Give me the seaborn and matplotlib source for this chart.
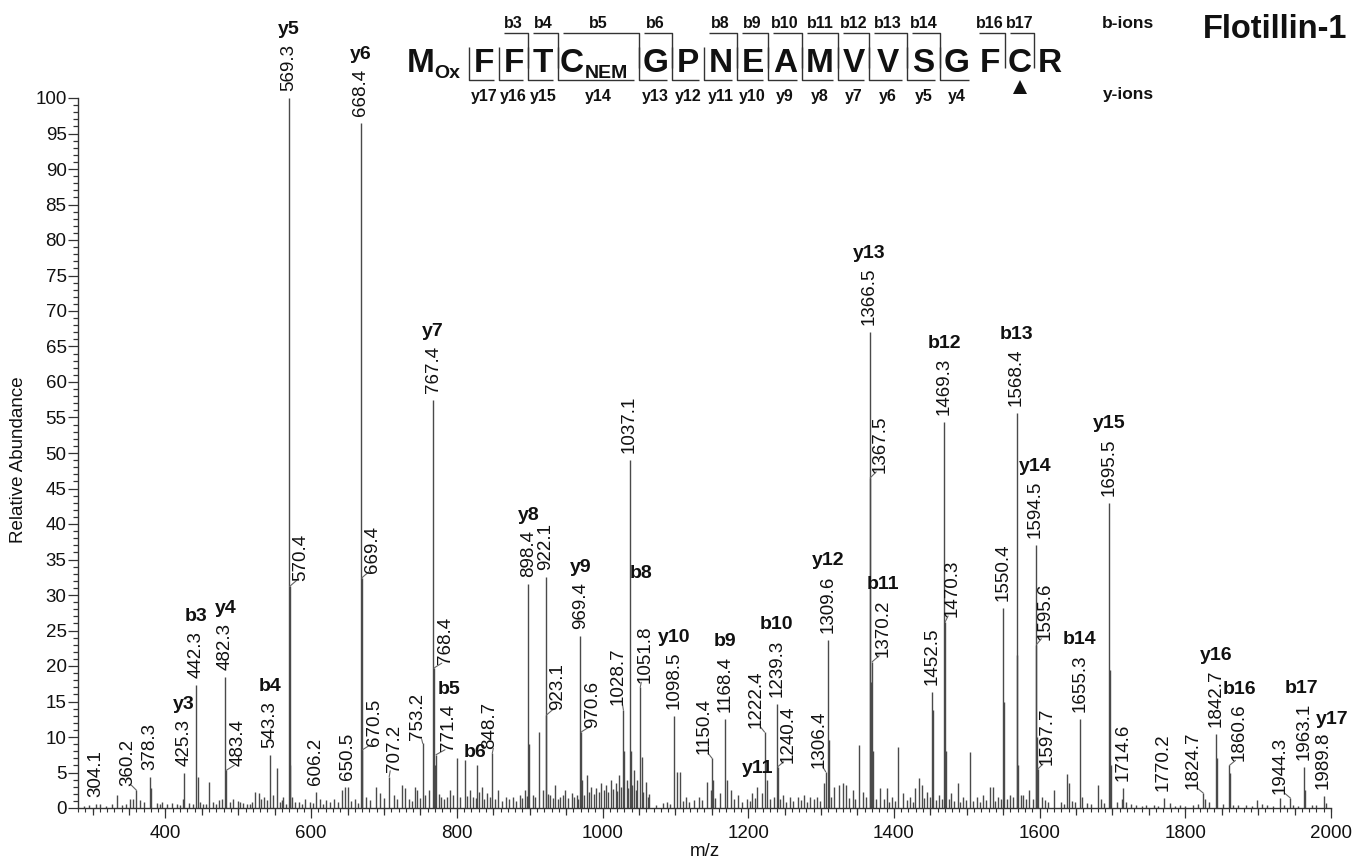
import numpy as np
import pandas as pd
import matplotlib
matplotlib.use("Agg")
import matplotlib.pyplot as plt
from matplotlib.ticker import MultipleLocator
import seaborn as sns

# ---------------- data ----------------
# annotated peaks (m/z label, relative abundance %)
ann_mz = [304.1, 360.2, 378.3, 425.3, 442.3, 482.3, 483.4, 543.3, 569.3, 570.4,
          606.2, 650.5, 668.4, 669.4, 670.5, 707.2, 753.2, 767.4, 768.4, 771.4,
          848.7, 898.4, 922.1, 923.1, 969.4, 970.6, 1028.7, 1037.1, 1051.8, 1098.5,
          1150.4, 1168.4, 1222.4, 1239.3, 1240.4, 1306.4, 1309.6, 1366.5, 1367.5, 1370.2,
          1452.5, 1469.3, 1470.3, 1550.4, 1568.4, 1594.5, 1595.6, 1597.7, 1655.3, 1695.5,
          1714.6, 1770.2, 1824.7, 1842.7, 1860.6, 1944.3, 1963.1, 1989.8]
ann_int = [0.5, 2.5, 4.4, 4.9, 17.3, 18.4, 5.3, 7.5, 100.0, 31.2,
           2.3, 3.0, 96.5, 32.4, 8.2, 4.4, 9.1, 57.5, 19.7, 7.5,
           7.7, 31.5, 32.5, 13.1, 24.2, 10.7, 13.8, 49.0, 17.0, 12.9,
           7.0, 12.5, 10.7, 14.7, 5.8, 5.1, 23.7, 67.0, 46.5, 20.6,
           16.4, 54.4, 26.2, 28.1, 55.6, 37.0, 23.0, 5.5, 12.6, 43.0,
           2.8, 1.4, 2.1, 10.4, 6.0, 1.4, 5.8, 1.7]
# fragment-ion assignment of annotated peaks
ann_ion = {425.3: "y3", 442.3: "b3", 482.3: "y4", 543.3: "b4", 569.3: "y5",
           668.4: "y6", 767.4: "y7", 771.4: "b5", 898.4: "y8", 969.4: "y9",
           1098.5: "y10", 1168.4: "b9", 1239.3: "b10", 1309.6: "y12", 1366.5: "y13",
           1370.2: "b11", 1469.3: "b12", 1568.4: "b13", 1594.5: "y14", 1655.3: "b14",
           1695.5: "y15", 1842.7: "y16", 1860.6: "b16", 1963.1: "b17", 1989.8: "y17"}
# ion peaks shown only with their ion name
ion_only_mz = [828.3, 1039.4, 1212.6]
ion_only_int = [6.0, 8.0, 3.0]
ion_only_name = ["b6", "b8", "y11"]

# other (unlabelled) peaks
other_mz = [288, 295, 310, 319, 326, 333, 340, 346, 351, 355, 365, 370, 380, 388, 392, 395,
            402, 409, 416, 420, 424, 433, 438, 444.3, 448, 452, 456, 460, 466, 470, 473, 477,
            488, 493, 499, 503, 507, 512, 516, 519, 523, 528, 531, 535, 539, 547, 553, 557,
            560, 562, 566,
            571.4, 574, 578, 583, 587, 592, 598, 602, 612, 616, 621, 626, 632, 637, 642, 647,
            655, 660, 664, 676, 681, 689, 694.6, 700, 714, 718, 725, 729, 734, 738, 743, 746,
            750, 757, 762, 769.4, 775, 778, 782, 787, 791, 795, 800, 804, 810.6, 814, 818, 822,
            826, 831, 834, 838, 841, 845, 852, 857, 862, 868, 872, 877, 881, 886.6, 890, 893,
            896, 899.4, 904, 908, 913, 918, 925, 928, 932, 935, 939, 942, 946, 949, 953, 958,
            961, 964.6, 966, 971.5, 975, 979, 982, 984.8, 988, 991.7, 995, 998.6, 1002, 1005.4,
            1008, 1012, 1015, 1018, 1020, 1023, 1026, 1030, 1033.6, 1035, 1041, 1043, 1046, 1048,
            1053.8, 1056, 1059.7, 1062, 1064, 1074, 1083, 1088, 1093,
            1102, 1106, 1110, 1114, 1119, 1125.6, 1132.5, 1136, 1143, 1149, 1151.4, 1155, 1161,
            1171, 1177, 1181, 1186.6, 1191, 1198, 1202, 1205, 1209, 1219, 1225.6, 1230, 1235,
            1243, 1248, 1252, 1257, 1262, 1269, 1273, 1277, 1281, 1285, 1290, 1294.4, 1298,
            1303.5, 1310.6, 1313, 1318, 1325, 1330, 1334, 1338, 1343.5, 1347, 1352, 1357, 1362,
            1368.5, 1371.2, 1375, 1381, 1386, 1390, 1393, 1397, 1401, 1405, 1413, 1418, 1422.6,
            1426, 1429, 1434, 1438.6, 1441, 1445.5, 1449, 1453.5, 1458, 1461.7, 1466, 1471.3,
            1475, 1479, 1483, 1488, 1491, 1495, 1499, 1505, 1509, 1513.6, 1518, 1522.7, 1527,
            1532, 1535.6, 1539, 1543.4, 1547, 1551.4, 1555, 1559, 1564, 1569.4, 1570.4, 1574,
            1577.8, 1581, 1585, 1591,
            1596.6, 1603, 1608, 1612, 1620, 1628.8, 1633, 1638, 1640, 1645, 1648, 1658, 1665,
            1670, 1680, 1683.6, 1689, 1696.5, 1697.5, 1705.6, 1712.5, 1718, 1725, 1733, 1740,
            1746.5, 1757, 1763, 1779, 1786, 1793, 1800, 1810, 1818, 1827.6, 1832, 1843.7, 1852,
            1861.6, 1866, 1873, 1884, 1892, 1899, 1905, 1912, 1920, 1930, 1935, 1948, 1955,
            1964.1, 1973.6, 1980, 1993]
other_int = [0.3, 0.4, 0.6, 0.3, 0.6, 1.8, 0.4, 0.5, 1.2, 1.3, 1.1, 0.9, 2.8, 0.7, 0.6, 0.8,
             0.5, 0.7, 0.5, 0.4, 1.2, 0.7, 0.6, 4.3, 0.8, 0.5, 0.5, 3.7, 0.9, 0.6, 1.1, 1.3,
             0.9, 1.3, 1.0, 0.8, 0.7, 0.6, 0.5, 0.9, 2.3, 2.1, 1.2, 1.6, 1.1, 1.8, 5.7, 0.9,
             1.1, 1.6, 0.5,
             6.0, 1.6, 0.8, 0.9, 0.6, 1.3, 0.9, 0.7, 1.3, 0.6, 1.1, 0.8, 1.3, 0.9, 2.5, 2.9,
             1.0, 1.3, 0.7, 1.6, 1.1, 3.0, 2.1, 1.4, 1.8, 1.2, 3.2, 2.8, 1.3, 1.0, 3.0, 2.5,
             1.4, 1.8, 2.5, 6.0, 2.0, 1.5, 1.2, 1.5, 2.5, 1.9, 7.0, 1.5, 6.7, 1.7, 2.5, 1.6,
             1.4, 2.2, 3.0, 1.2, 2.1, 1.5, 1.3, 2.5, 1.0, 1.6, 1.2, 1.6, 1.0, 1.8, 1.4, 2.5,
             1.7, 9.0, 1.8, 1.5, 10.7, 2.5, 2.0, 1.8, 1.4, 3.2, 1.2, 1.6, 1.9, 2.5, 1.4, 2.1,
             1.6, 1.8, 1.2, 4.0, 1.9, 4.6, 2.2, 3.0, 2.0, 2.8, 2.3, 3.5, 2.6, 3.2,
             2.2, 3.9, 2.7, 3.5, 2.4, 4.6, 3.0, 8.0, 3.9, 2.8, 3.2, 5.3, 2.5, 3.9,
             7.2, 2.2, 3.7, 1.5, 2.0, 0.4, 0.7, 0.9, 0.6,
             5.1, 5.1, 1.0, 1.6, 0.8, 1.1, 1.6, 1.1, 3.7, 2.5, 4.0, 1.4, 2.1,
             4.0, 2.5, 1.2, 1.8, 0.9, 1.3, 1.0, 2.1, 1.4, 2.1, 4.0, 1.2, 1.5,
             1.3, 1.8, 0.9, 1.6, 1.0, 1.6, 1.1, 1.8, 0.9, 1.6, 1.2, 1.6, 1.0,
             3.5, 9.6, 1.5, 3.0, 3.2, 3.5, 3.2, 1.4, 2.5, 1.2, 8.9, 2.3, 1.6,
             17.8, 8.0, 1.3, 2.8, 1.2, 2.8, 0.9, 1.6, 1.0, 8.6, 2.1, 1.1, 1.6,
             0.8, 2.8, 4.2, 3.2, 1.4, 2.3, 1.6, 13.8, 1.1, 1.8, 1.3, 8.0,
             1.2, 2.1, 1.0, 3.5, 0.9, 1.6, 1.1, 7.9, 1.0, 1.6, 0.8, 1.8, 1.1,
             3.0, 3.0, 1.0, 1.6, 1.2, 15.0, 1.3, 1.8, 1.6, 21.5, 6.0, 1.8,
             1.8, 1.3, 2.5, 1.3,
             10.0, 1.6, 1.1, 0.8, 2.5, 0.9, 0.6, 4.8, 3.5, 1.0, 0.9, 1.6, 0.7,
             0.5, 3.2, 1.3, 0.7, 19.4, 6.0, 0.9, 1.3, 0.9, 0.5, 0.4, 0.3,
             0.4, 0.4, 0.3, 0.7, 0.3, 0.4, 0.3, 0.4, 0.5, 1.3, 0.9, 7.0, 0.6,
             5.0, 0.4, 0.4, 0.4, 0.3, 1.1, 0.5, 0.4, 0.3, 1.4, 0.4, 0.4, 0.3,
             2.5, 0.4, 0.4, 0.7]

# peptide sequence header
residues = ["M", "F", "F", "T", "C", "G", "P", "N", "E", "A", "M", "V", "V", "S", "G", "F", "C", "R"]
subscripts = {0: "Ox", 4: "NEM"}
b_ions_seen = [3, 4, 5, 6, 8, 9, 10, 11, 12, 13, 14, 16, 17]
y_ions_seen = [17, 16, 15, 14, 13, 12, 11, 10, 9, 8, 7, 6, 5, 4]

x_ticks = [400, 600, 800, 1000, 1200, 1400, 1600, 1800, 2000]
y_ticks = list(range(0, 101, 5))

# ---------------- layout / style ----------------
W, H = 1353, 865
PX = 72 / 100.0          # points per pixel
FONT = ["Liberation Sans", "DejaVu Sans"]
LINE = "#4a4a4a"
TXT = "#111111"

# label offsets in pixels (dx, dy) for crowded labels
label_shift = {360.2: (-9, 4), 483.4: (12, 4), 570.4: (11, 5), 669.4: (11, 5), 670.5: (12, 4),
               707.2: (5, 5), 753.2: (-5, 3), 768.4: (12, 4), 771.4: (13, 4), 848.7: (-3, 4),
               923.1: (11, 5), 970.6: (12, 4), 1028.7: (-5, 5), 1051.8: (5, 4), 1150.4: (-8, 4),
               1222.4: (-8, 4), 1240.4: (10, 4), 1306.4: (-7, 4), 1367.5: (10, 5), 1370.2: (11, 5),
               1470.3: (7, 5), 1595.6: (9, 5), 1597.7: (9, 4), 1824.7: (-10, 4), 1860.6: (10, 4),
               1944.3: (-10, 4)}
ion_shift = {"y17": (9, 4), "b17": (-3, 6)}
ion_only_shift = {"b6": (-2, 4), "b8": (10, 169), "y11": (0, 10)}

sns.set_theme(style="ticks")
plt.rcParams["font.family"] = FONT
plt.rcParams["text.color"] = TXT

fig = plt.figure(figsize=(W / 100, H / 100), dpi=100)
ax = fig.add_axes([78 / W, 1 - 808 / H, (1331 - 78) / W, (808 - 98) / H])

peaks = pd.DataFrame({
    "mz": list(other_mz) + list(ann_mz) + list(ion_only_mz),
    "intensity": list(other_int) + list(ann_int) + list(ion_only_int),
})
ax.vlines(peaks["mz"], 0, peaks["intensity"], color=LINE, lw=1.0, zorder=2)

ax.set_xlim(280, 2000)
ax.set_ylim(0, 100)
sns.despine(ax=ax)
for s in ["left", "bottom"]:
    ax.spines[s].set_color("#333333")
    ax.spines[s].set_linewidth(1.0)

ax.set_xticks(x_ticks)
ax.set_yticks(y_ticks)
ax.xaxis.set_minor_locator(MultipleLocator(50))
ax.yaxis.set_minor_locator(MultipleLocator(1))
ax.tick_params(axis="both", which="major", length=10 * PX, width=0.9, color="#333333",
               labelsize=13.5, labelcolor=TXT)
ax.tick_params(axis="x", which="major", pad=5)
ax.tick_params(axis="y", which="major", pad=1)
ax.tick_params(axis="x", which="minor", length=7 * PX, width=0.9, color="#333333")
ax.tick_params(axis="y", which="minor", length=5 * PX, width=0.9, color="#333333")
sec = ax.secondary_xaxis("bottom")
sec.set_xticks(np.arange(280, 2001, 10))
sec.tick_params(length=3.5 * PX, width=0.8, color="#333333", labelbottom=False)
sec.spines["bottom"].set_visible(False)

ax.set_xlabel("m/z", fontsize=13.5, color=TXT)
ax.set_ylabel("Relative Abundance", fontsize=13.5, color=TXT)
ax.xaxis.set_label_coords(0.5, (808 - 843) / 710)
ax.yaxis.set_label_coords((27 - 78) / 1253, 0.49)

# peak labels
for mz, h in zip(ann_mz, ann_int):
    dx, dy = label_shift.get(mz, (0, 7))
    t = ax.annotate(f"{mz:.1f}", xy=(mz, h), xytext=(dx * PX, dy * PX), textcoords="offset points",
                    rotation=90, ha="center", va="bottom", fontsize=13.5, color=TXT, zorder=4)
    if dx != 0:
        lx = dx - (4 if dx > 0 else -4)
        ax.annotate("", xy=(mz, h), xytext=(lx * PX, (dy + 1) * PX), textcoords="offset points",
                    arrowprops=dict(arrowstyle="-", color="#666666", lw=0.8,
                                    shrinkA=0, shrinkB=0), zorder=3)
    if mz in ann_ion:
        name = ann_ion[mz]
        idx, idy = ion_shift.get(name, (0, 6))
        ax.annotate(name, xy=(0.5, 1.0), xycoords=t, xytext=(idx * PX, idy * PX),
                    textcoords="offset points", ha="center", va="bottom",
                    fontsize=14, fontweight="bold", color=TXT, zorder=4)

for mz, h, name in zip(ion_only_mz, ion_only_int, ion_only_name):
    dx, dy = ion_only_shift[name]
    ax.annotate(name, xy=(mz, h), xytext=(dx * PX, dy * PX), textcoords="offset points",
                ha="center", va="bottom", fontsize=14, fontweight="bold", color=TXT, zorder=4)

# ---------------- sequence header ----------------
hax = fig.add_axes([0, 0, 1, 1], facecolor="none")
hax.set_xlim(0, W)
hax.set_ylim(H, 0)
hax.axis("off")

bounds = [469, 499, 528, 558, 639, 672, 704, 737, 768, 802, 838, 869, 907, 940, 974, 1005, 1034, 1066]
TOP, BOT, BASE = 33, 80, 72
for i, res in enumerate(residues):
    if i == 0:
        cx = 421
    elif i in subscripts:
        cx = bounds[i - 1] + 14
    else:
        cx = (bounds[i - 1] + bounds[i]) / 2
    hax.text(cx, BASE, res, ha="center", va="baseline", fontsize=24, fontweight="bold", color=TXT)
    if i in subscripts:
        sx = 434 if i == 0 else bounds[i - 1] + 27
        hax.text(sx, BASE + 6, subscripts[i], ha="left", va="baseline", fontsize=14,
                 fontweight="bold", color=TXT)

bl = dict(color="#333333", lw=1.0, solid_capstyle="butt")
for n in b_ions_seen:
    xb = bounds[n - 1]
    x0 = bounds[n - 2] + 5
    hax.plot([x0, xb, xb], [TOP, TOP, 68], **bl)
    hax.text((bounds[n - 2] + xb) / 2, 23, f"b{n}", ha="center", va="center", fontsize=11.5,
             fontweight="bold", color=TXT)
for k in y_ions_seen:
    xb = bounds[17 - k]
    x1 = bounds[18 - k] - 5
    hax.plot([xb, xb, x1], [47, BOT, BOT], **bl)
    hax.text((xb + bounds[18 - k]) / 2, 97, f"y{k}", ha="center", va="center", fontsize=11.5,
             fontweight="bold", color=TXT)

hax.plot([(bounds[15] + bounds[16]) / 2], [87], marker="^", ms=10, color="#111111", mew=0)
hax.text(1128, 24, "b-ions", ha="center", va="center", fontsize=12.5, fontweight="bold", color=TXT)
hax.text(1128, 94, "y-ions", ha="center", va="center", fontsize=12.5, fontweight="bold", color=TXT)
hax.text(1347, 30, "Flotillin-1", ha="right", va="center", fontsize=23.5, fontweight="bold", color=TXT)

fig.savefig("out.png", dpi=100)
